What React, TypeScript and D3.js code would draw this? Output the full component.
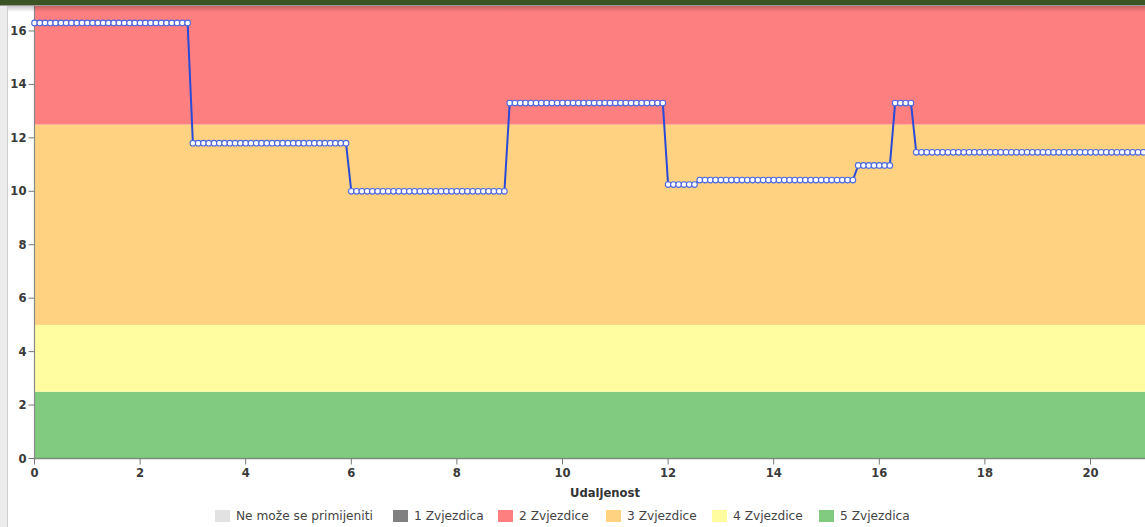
import React from "react";
import * as d3 from "d3";

const distances: number[] = [
  0.0, 0.1, 0.2, 0.3, 0.4, 0.5, 0.6, 0.7, 0.8, 0.9,
  1.0, 1.1, 1.2, 1.3, 1.4, 1.5, 1.6, 1.7, 1.8, 1.9,
  2.0, 2.1, 2.2, 2.3, 2.4, 2.5, 2.6, 2.7, 2.8, 2.9,
  3.0, 3.1, 3.2, 3.3, 3.4, 3.5, 3.6, 3.7, 3.8, 3.9,
  4.0, 4.1, 4.2, 4.3, 4.4, 4.5, 4.6, 4.7, 4.8, 4.9,
  5.0, 5.1, 5.2, 5.3, 5.4, 5.5, 5.6, 5.7, 5.8, 5.9,
  6.0, 6.1, 6.2, 6.3, 6.4, 6.5, 6.6, 6.7, 6.8, 6.9,
  7.0, 7.1, 7.2, 7.3, 7.4, 7.5, 7.6, 7.7, 7.8, 7.9,
  8.0, 8.1, 8.2, 8.3, 8.4, 8.5, 8.6, 8.7, 8.8, 8.9,
  9.0, 9.1, 9.2, 9.3, 9.4, 9.5, 9.6, 9.7, 9.8, 9.9,
  10.0, 10.1, 10.2, 10.3, 10.4, 10.5, 10.6, 10.7, 10.8, 10.9,
  11.0, 11.1, 11.2, 11.3, 11.4, 11.5, 11.6, 11.7, 11.8, 11.9,
  12.0, 12.1, 12.2, 12.3, 12.4, 12.5, 12.6, 12.7, 12.8, 12.9,
  13.0, 13.1, 13.2, 13.3, 13.4, 13.5, 13.6, 13.7, 13.8, 13.9,
  14.0, 14.1, 14.2, 14.3, 14.4, 14.5, 14.6, 14.7, 14.8, 14.9,
  15.0, 15.1, 15.2, 15.3, 15.4, 15.5, 15.6, 15.7, 15.8, 15.9,
  16.0, 16.1, 16.2, 16.3, 16.4, 16.5, 16.6, 16.7, 16.8, 16.9,
  17.0, 17.1, 17.2, 17.3, 17.4, 17.5, 17.6, 17.7, 17.8, 17.9,
  18.0, 18.1, 18.2, 18.3, 18.4, 18.5, 18.6, 18.7, 18.8, 18.9,
  19.0, 19.1, 19.2, 19.3, 19.4, 19.5, 19.6, 19.7, 19.8, 19.9,
  20.0, 20.1, 20.2, 20.3, 20.4, 20.5, 20.6, 20.7, 20.8, 20.9,
  21.0,
];

const values: number[] = [
  16.3, 16.3, 16.3, 16.3, 16.3, 16.3, 16.3, 16.3, 16.3, 16.3,
  16.3, 16.3, 16.3, 16.3, 16.3, 16.3, 16.3, 16.3, 16.3, 16.3,
  16.3, 16.3, 16.3, 16.3, 16.3, 16.3, 16.3, 16.3, 16.3, 16.3,
  11.8, 11.8, 11.8, 11.8, 11.8, 11.8, 11.8, 11.8, 11.8, 11.8,
  11.8, 11.8, 11.8, 11.8, 11.8, 11.8, 11.8, 11.8, 11.8, 11.8,
  11.8, 11.8, 11.8, 11.8, 11.8, 11.8, 11.8, 11.8, 11.8, 11.8,
  10.0, 10.0, 10.0, 10.0, 10.0, 10.0, 10.0, 10.0, 10.0, 10.0,
  10.0, 10.0, 10.0, 10.0, 10.0, 10.0, 10.0, 10.0, 10.0, 10.0,
  10.0, 10.0, 10.0, 10.0, 10.0, 10.0, 10.0, 10.0, 10.0, 10.0,
  13.3, 13.3, 13.3, 13.3, 13.3, 13.3, 13.3, 13.3, 13.3, 13.3,
  13.3, 13.3, 13.3, 13.3, 13.3, 13.3, 13.3, 13.3, 13.3, 13.3,
  13.3, 13.3, 13.3, 13.3, 13.3, 13.3, 13.3, 13.3, 13.3, 13.3,
  10.25, 10.25, 10.25, 10.25, 10.25, 10.25, 10.42, 10.42, 10.42, 10.42,
  10.42, 10.42, 10.42, 10.42, 10.42, 10.42, 10.42, 10.42, 10.42, 10.42,
  10.42, 10.42, 10.42, 10.42, 10.42, 10.42, 10.42, 10.42, 10.42, 10.42,
  10.42, 10.42, 10.42, 10.42, 10.42, 10.42, 10.97, 10.97, 10.97, 10.97,
  10.97, 10.97, 10.97, 13.3, 13.3, 13.3, 13.3, 11.46, 11.46, 11.46,
  11.46, 11.46, 11.46, 11.46, 11.46, 11.46, 11.46, 11.46, 11.46, 11.46,
  11.46, 11.46, 11.46, 11.46, 11.46, 11.46, 11.46, 11.46, 11.46, 11.46,
  11.46, 11.46, 11.46, 11.46, 11.46, 11.46, 11.46, 11.46, 11.46, 11.46,
  11.46, 11.46, 11.46, 11.46, 11.46, 11.46, 11.46, 11.46, 11.46, 11.46,
  11.46,
];

// rating bands: [from, to]
const bandFrom: number[] = [0, 2.5, 5, 12.5];
const bandTo: number[] = [2.5, 5, 12.5, 17];
const bandColors: string[] = ["#80cb7f", "#fffd9f", "#fed280", "#fe7f7f"];

const xTicks: number[] = [0, 2, 4, 6, 8, 10, 12, 14, 16, 18, 20];
const yTicks: number[] = [0, 2, 4, 6, 8, 10, 12, 14, 16];

const legendLabels: string[] = [
  "Ne može se primijeniti",
  "1 Zvjezdica",
  "2 Zvjezdice",
  "3 Zvjezdice",
  "4 Zvjezdice",
  "5 Zvjezdica",
];
const legendColors: string[] = ["#e2e2e2", "#808080", "#fe7f7f", "#fed280", "#fffd9f", "#80cb7f"];
const legendX: number[] = [215, 393, 498, 606, 712, 819];

const W = 1145;
const H = 527;

export default function App() {
  const x = d3.scaleLinear().domain([0, 22]).range([34.5, 34.5 + 22 * 52.8]);
  const y = d3.scaleLinear().domain([0, 17]).range([458.5, 458.5 - 17 * 26.72]);

  const pts = distances.map((d, i) => [d, values[i]] as [number, number]);
  const line = d3
    .line<[number, number]>()
    .x((d) => x(d[0]))
    .y((d) => y(d[1]));

  const tickFont = "'DejaVu Sans', Verdana, sans-serif";

  return (
    <svg
      width={W}
      height={H}
      style={{ position: "absolute", left: 0, top: 0, background: "#fff" }}
    >
      <defs>
        <clipPath id="plot">
          <rect x={x(0)} y={0} width={W - x(0)} height={y(0) - 0} />
        </clipPath>
        <linearGradient id="shadow" x1="0" y1="0" x2="0" y2="1">
          <stop offset="0" stopColor="#000" stopOpacity="0.22" />
          <stop offset="1" stopColor="#000" stopOpacity="0" />
        </linearGradient>
      </defs>

      {/* bands */}
      <g clipPath="url(#plot)">
        {bandFrom.map((b, i) => (
          <rect
            key={i}
            x={x(0)}
            y={y(bandTo[i])}
            width={W - x(0)}
            height={y(b) - y(bandTo[i])}
            fill={bandColors[i]}
          />
        ))}
      </g>

      {/* axes */}
      <line x1={x(0)} x2={W} y1={y(0)} y2={y(0)} stroke="#7a8f7a" strokeWidth={1.5} />
      <line x1={x(0)} x2={x(0)} y1={0} y2={y(0) + 0.5} stroke="#8a8a8a" strokeWidth={1.2} />
      {xTicks.map((t) => (
        <g key={"x" + t}>
          <line x1={x(t)} x2={x(t)} y1={y(0)} y2={y(0) + 6} stroke="#777" strokeWidth={1} />
          <text
            x={x(t)}
            y={y(0) + 18}
            textAnchor="middle"
            fontFamily={tickFont}
            fontWeight="bold"
            fontSize={11.6}
            fill="#3a3a3a"
          >
            {t}
          </text>
        </g>
      ))}
      {yTicks.map((t) => (
        <g key={"y" + t}>
          <line x1={x(0) - 6} x2={x(0)} y1={y(t)} y2={y(t)} stroke="#777" strokeWidth={1} />
          <text
            x={x(0) - 8}
            y={y(t) + 4}
            textAnchor="end"
            fontFamily={tickFont}
            fontWeight="bold"
            fontSize={11.6}
            fill="#3a3a3a"
          >
            {t}
          </text>
        </g>
      ))}
      <text
        x={605}
        y={497}
        textAnchor="middle"
        fontFamily={tickFont}
        fontWeight="bold"
        fontSize={11.6}
        fill="#333"
      >
        Udaljenost
      </text>

      {/* series */}
      <path d={line(pts) || ""} fill="none" stroke="#2a4bd7" strokeWidth={2} />
      {pts.map((p, i) => (
        <circle
          key={i}
          cx={x(p[0])}
          cy={y(p[1])}
          r={2.8}
          fill="#ffffff"
          stroke="#4a66e0"
          strokeWidth={1.1}
        />
      ))}

      {/* legend */}
      {legendLabels.map((l, i) => (
        <g key={l}>
          <rect x={legendX[i]} y={510} width={15} height={12} fill={legendColors[i]} />
          <text
            x={legendX[i] + 21}
            y={520}
            fontFamily="'DejaVu Sans', Verdana, sans-serif"
            fontSize={12.2}
            fill="#444"
          >
            {l}
          </text>
        </g>
      ))}

      {/* page chrome: top bar and left strip */}
      <rect x={0} y={6} width={W} height={6} fill="url(#shadow)" />
      <rect x={0} y={0} width={W} height={5} fill="#3a5424" />
      <line x1={0} x2={W} y1={5.5} y2={5.5} stroke="#9a9a9a" strokeWidth={1.2} />
      <rect x={0} y={6} width={7} height={H - 6} fill="#ececec" />
      <line x1={7.5} x2={7.5} y1={6} y2={H} stroke="#cfcfcf" strokeWidth={1} />
    </svg>
  );
}
